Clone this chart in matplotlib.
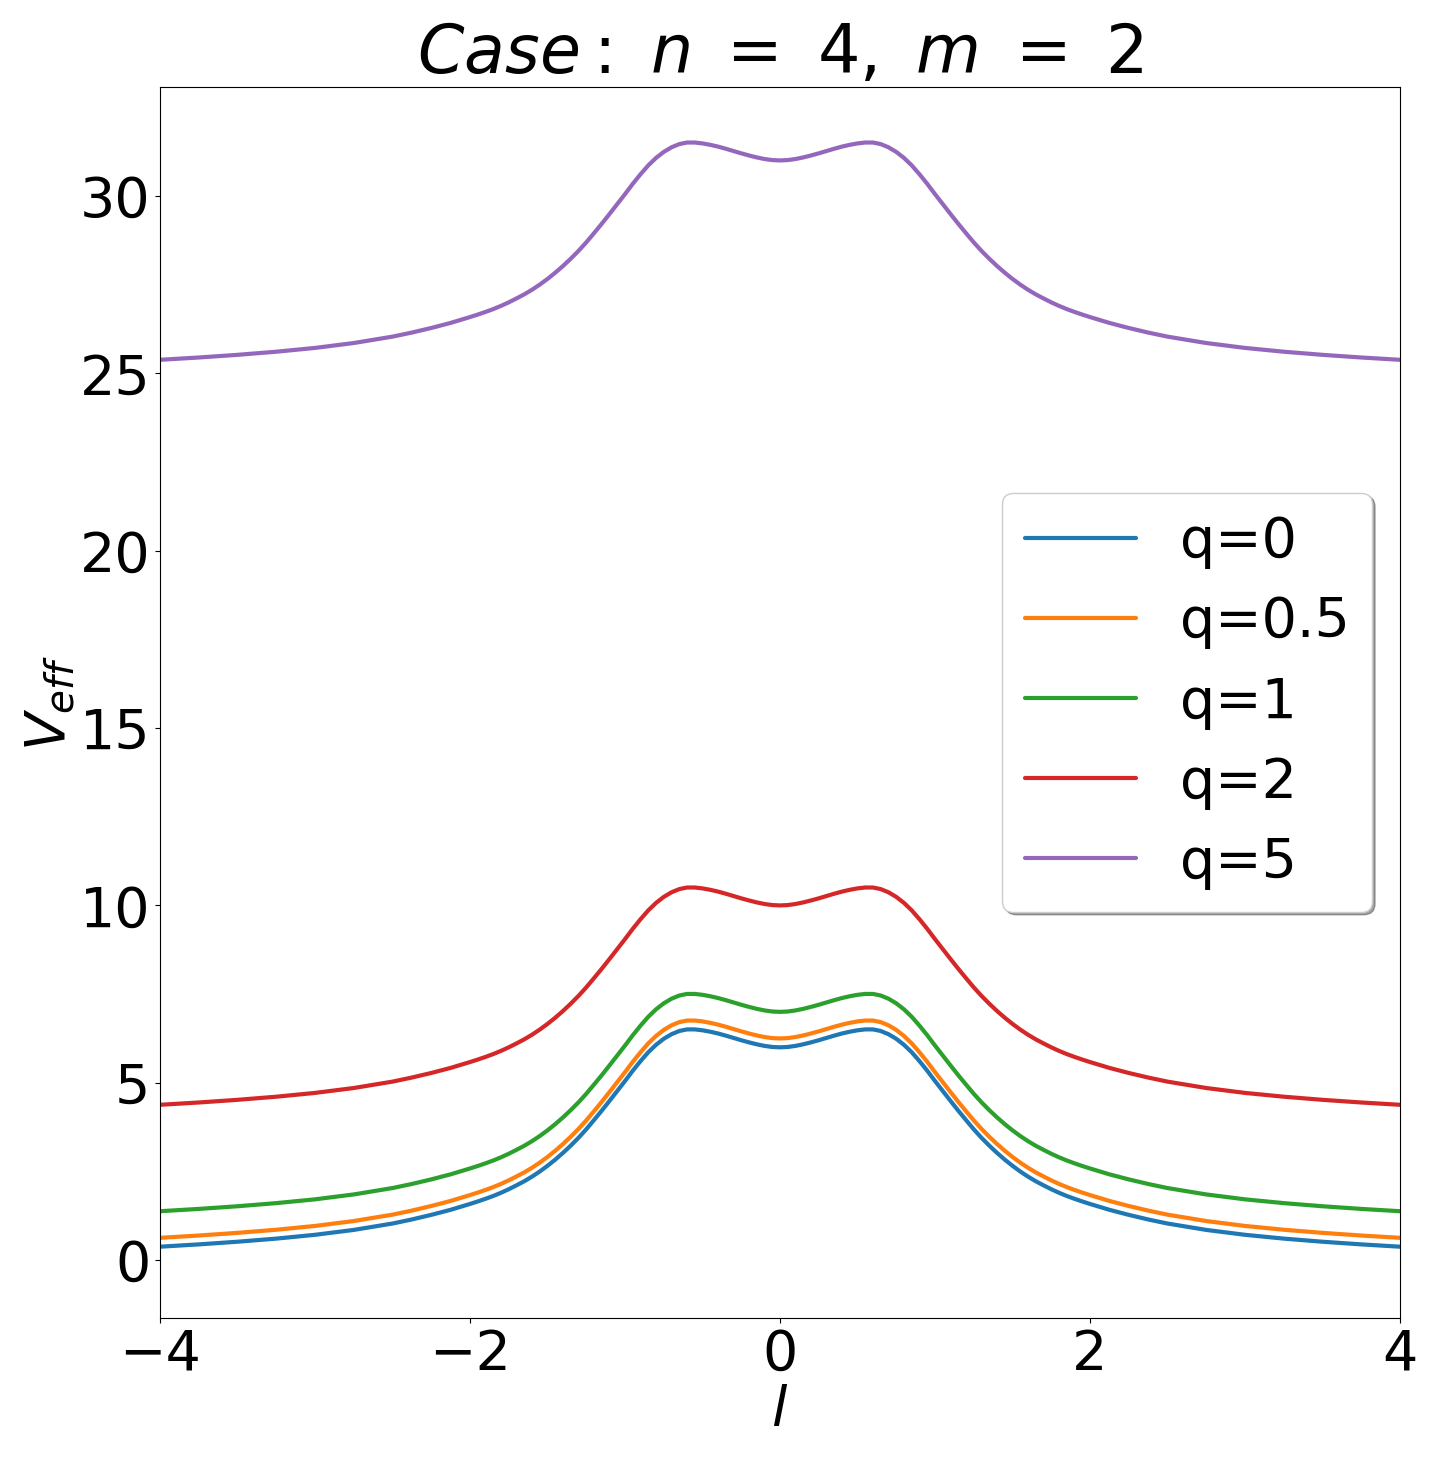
import numpy as np
import matplotlib
matplotlib.use("Agg")
import matplotlib.pyplot as plt

# Values read for l >= 0; the curves are symmetric in l.
l_half = [0.0, 0.05, 0.1, 0.15, 0.2, 0.25, 0.3, 0.35, 0.4, 0.45, 0.5, 0.55, 0.6, 0.65,
          0.7, 0.75, 0.8, 0.85, 0.9, 0.95, 1.0, 1.05, 1.1, 1.15, 1.2, 1.25, 1.3, 1.35,
          1.4, 1.45, 1.5,
          1.55, 1.6, 1.65, 1.7, 1.75, 1.8, 1.85, 1.9, 1.95, 2.0,
          2.125, 2.25, 2.375, 2.5,
          2.75, 3.0, 3.25, 3.5, 3.75, 4.0]

v_q0 = [6.00, 6.01, 6.04, 6.085, 6.14, 6.20, 6.265, 6.33, 6.39, 6.44, 6.48, 6.505, 6.505,
        6.46, 6.37, 6.24, 6.07, 5.86, 5.61, 5.34, 5.05, 4.77, 4.49, 4.215, 3.95, 3.69,
        3.45, 3.23, 3.025, 2.835, 2.66,
        2.50, 2.355, 2.225, 2.11, 2.00, 1.90, 1.81, 1.73, 1.655, 1.585,
        1.42, 1.277, 1.148, 1.033,
        0.853, 0.715, 0.608, 0.52, 0.445, 0.38]

v_q05 = [6.25, 6.26, 6.29, 6.335, 6.39, 6.45, 6.515, 6.58, 6.64, 6.69, 6.73, 6.755, 6.755,
         6.71, 6.62, 6.49, 6.32, 6.11, 5.86, 5.59, 5.30, 5.02, 4.74, 4.465, 4.20, 3.94,
         3.70, 3.48, 3.275, 3.085, 2.91,
         2.75, 2.605, 2.475, 2.36, 2.25, 2.15, 2.06, 1.98, 1.905, 1.835,
         1.67, 1.527, 1.398, 1.283,
         1.103, 0.965, 0.858, 0.77, 0.695, 0.63]

v_q1 = [7.00, 7.01, 7.04, 7.085, 7.14, 7.20, 7.265, 7.33, 7.39, 7.44, 7.48, 7.505, 7.505,
        7.46, 7.37, 7.24, 7.07, 6.86, 6.61, 6.34, 6.05, 5.77, 5.49, 5.215, 4.95, 4.69,
        4.45, 4.23, 4.025, 3.835, 3.66,
        3.50, 3.355, 3.225, 3.11, 3.00, 2.90, 2.81, 2.73, 2.655, 2.585,
        2.42, 2.277, 2.148, 2.033,
        1.853, 1.715, 1.608, 1.52, 1.445, 1.38]

v_q2 = [10.00, 10.01, 10.04, 10.085, 10.14, 10.20, 10.265, 10.33, 10.39, 10.44, 10.48,
        10.505, 10.505, 10.46, 10.37, 10.24, 10.07, 9.86, 9.61, 9.34, 9.05, 8.77, 8.49,
        8.215, 7.95, 7.69, 7.45, 7.23, 7.025, 6.835, 6.66,
        6.50, 6.355, 6.225, 6.11, 6.00, 5.90, 5.81, 5.73, 5.655, 5.585,
        5.42, 5.277, 5.148, 5.033,
        4.853, 4.715, 4.608, 4.52, 4.445, 4.38]

v_q5 = [31.00, 31.01, 31.04, 31.085, 31.14, 31.20, 31.265, 31.33, 31.39, 31.44, 31.48,
        31.505, 31.505, 31.46, 31.37, 31.24, 31.07, 30.86, 30.61, 30.34, 30.05, 29.77,
        29.49, 29.215, 28.95, 28.69, 28.45, 28.23, 28.025, 27.835, 27.66,
        27.50, 27.355, 27.225, 27.11, 27.00, 26.90, 26.81, 26.73, 26.655, 26.585,
        26.42, 26.277, 26.148, 26.033,
        25.853, 25.715, 25.608, 25.52, 25.445, 25.38]

labels = ["q=0", "q=0.5", "q=1", "q=2", "q=5"]
colors = ["#1f77b4", "#ff7f0e", "#2ca02c", "#d62728", "#9467bd"]
series = [v_q0, v_q05, v_q1, v_q2, v_q5]


def mirror_x(h):
    return [-x for x in h[:0:-1]] + list(h)


def mirror_y(h):
    return list(h[:0:-1]) + list(h)


l_full = mirror_x(l_half)

fig = plt.figure(figsize=(14.37, 14.61), dpi=100)
ax = fig.add_axes([160/1437, 1 - 1318/1461, (1400-160)/1437, (1318-87)/1461])

for v, lab, c in zip(series, labels, colors):
    ax.plot(l_full, mirror_y(v), color=c, lw=3, label=lab,
            solid_joinstyle="round", solid_capstyle="round")

ax.set_xlim(-4, 4)
ax.set_ylim(-1.63, 33.07)
ax.set_xticks([-4, -2, 0, 2, 4])
ax.set_yticks([0, 5, 10, 15, 20, 25, 30])
ax.tick_params(labelsize=40)
ax.set_xlabel(r"$l$", fontsize=40, labelpad=2)
ax.set_ylabel(r"$V_{eff}$", fontsize=40, labelpad=2)
ax.set_title(r"$Case:\ n\ =\ 4,\ m\ =\ 2$", fontsize=48, pad=8)
ax.legend(loc="center right", fontsize=40, shadow=True, fancybox=True,
          labelspacing=0.47)

fig.savefig("out.png", dpi=100)
